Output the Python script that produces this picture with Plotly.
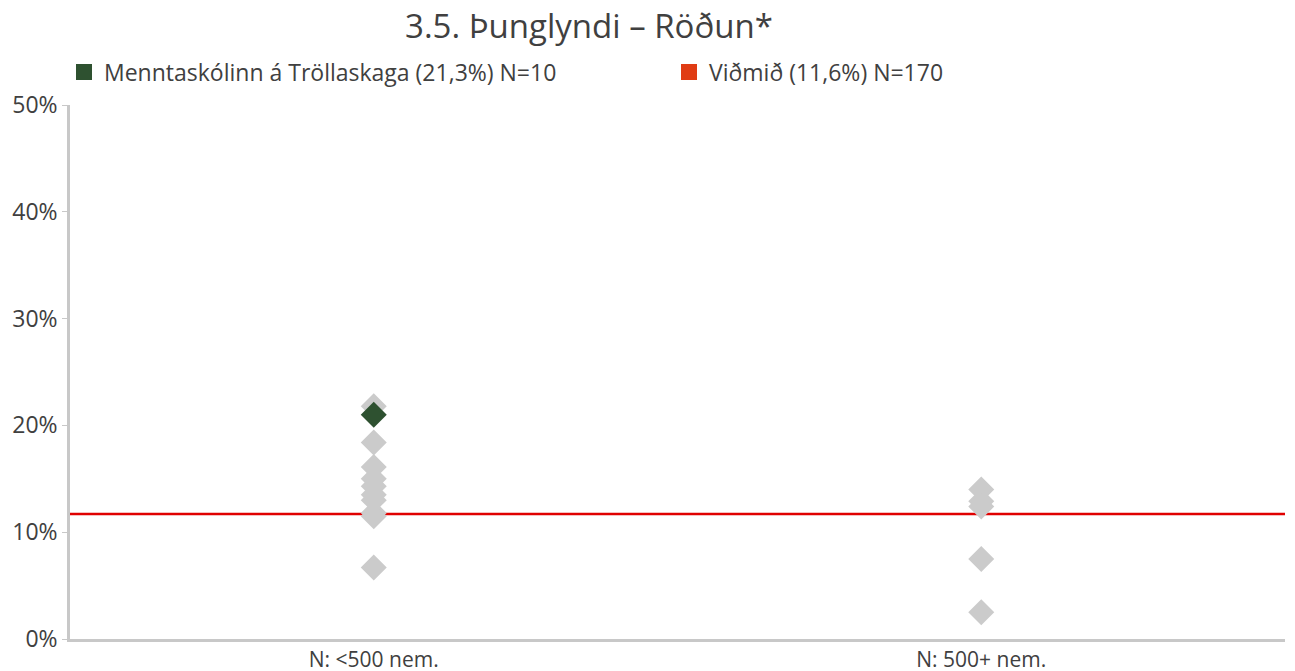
import plotly.graph_objects as go

categories = ["N: <500 nem.", "N: 500+ nem."]
small_schools = [21.8, 18.4, 16.1, 15.0, 14.3, 13.5, 13.0, 11.8, 11.5, 6.7]
large_schools = [14.0, 12.9, 12.4, 7.5, 2.5]
school_value = 21.0
school_name = "Menntaskólinn á Tröllaskaga (21,3%) N=10"
reference_value = 11.7
reference_name = "Viðmið (11,6%) N=170"

grey = "#CBCBCB"
green = "#2E5130"
red = "#E00000"
text_col = "#404040"

# page body has an 8px margin, so the figure is drawn 8px smaller
W, H = 1287, 663

fig = go.Figure()

fig.add_trace(go.Scatter(
    x=[categories[0]] * len(small_schools), y=small_schools,
    mode="markers", marker=dict(symbol="diamond", size=20, color=grey),
    showlegend=False, hoverinfo="y"))
fig.add_trace(go.Scatter(
    x=[categories[1]] * len(large_schools), y=large_schools,
    mode="markers", marker=dict(symbol="diamond", size=20, color=grey),
    showlegend=False, hoverinfo="y"))
fig.add_trace(go.Scatter(
    x=[categories[0]], y=[school_value],
    mode="markers", marker=dict(symbol="diamond", size=20, color=green),
    showlegend=False, hoverinfo="y"))

# legend entries (square swatches)
fig.add_trace(go.Scatter(
    x=[None], y=[None], mode="markers", name=school_name,
    marker=dict(symbol="square", size=16, color=green)))
fig.add_trace(go.Scatter(
    x=[None], y=[None], mode="markers", name=reference_name,
    marker=dict(symbol="square", size=16, color="#E03C14")))

fig.add_hline(y=reference_value, line=dict(color=red, width=2.5), layer="below")

fig.update_layout(
    width=W, height=H,
    margin=dict(l=62, r=10, t=97, b=32, pad=0),
    paper_bgcolor="white", plot_bgcolor="white",
    font=dict(family="Open Sans, sans-serif", size=23, color=text_col),
    title=dict(text="3.5. Þunglyndi – Röðun*", x=581 / W, xanchor="center",
               y=1 - 18 / H, yanchor="middle", font=dict(size=33, color=text_col)),
    legend=dict(orientation="h", x=56 / W, xanchor="left", xref="container",
                y=1 - 64 / H, yanchor="middle", yref="container",
                entrywidth=560, entrywidthmode="pixels",
                font=dict(size=23, color=text_col), itemwidth=30),
    xaxis=dict(type="category", categoryorder="array", categoryarray=categories,
               range=[-0.5, 1.5], showline=True, linecolor="#C8C8C8", linewidth=2.5,
               showgrid=False, ticks="", zeroline=False, automargin=False,
               tickfont=dict(size=21)),
    yaxis=dict(range=[0, 50], dtick=10, ticksuffix="%", showline=True,
               linecolor="#C8C8C8", linewidth=2.5, showgrid=False, zeroline=False,
               ticks="outside", ticklen=5, tickcolor="#C8C8C8", automargin=False),
)

fig.write_html("out.html")
